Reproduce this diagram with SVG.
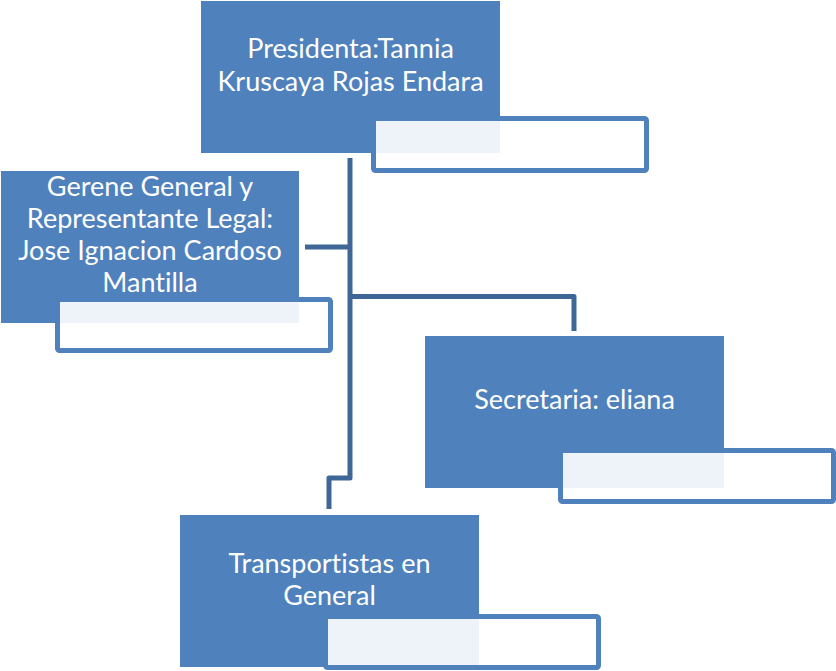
<svg xmlns="http://www.w3.org/2000/svg" width="836" height="671" viewBox="0 0 836 671">
<style>
.box{fill:#4F81BD;}
.sub{fill:#FFFFFF;fill-opacity:0.9;stroke:#4F81BD;stroke-width:5;}
.lbl{font-family:Lato,"Open Sans","Liberation Sans",sans-serif;font-size:27px;fill:#FFFFFF;text-anchor:middle;font-variant-ligatures:none;}
.conn{fill:none;stroke:#3E6797;stroke-width:5;stroke-linejoin:round;}
</style>
<rect width="836" height="671" fill="#FFFFFF"/>
<g id="connectors">
<path class="conn" d="M350,158 V478 H329 V509"/>
<path class="conn" d="M305,247 H350"/>
<path class="conn" d="M350,296.5 H574 V331"/>
</g>
<g id="presidenta">
<rect class="box" x="201" y="1" width="299" height="152"/>
<text class="lbl" x="350.5" y="58">Presidenta:Tannia</text>
<text class="lbl" x="350.5" y="90.5">Kruscaya Rojas Endara</text>
<rect class="sub" x="373.5" y="118.5" width="273" height="52" rx="2"/>
</g>
<g id="gerente">
<rect class="box" x="1" y="171" width="298" height="152"/>
<text class="lbl" x="150" y="196">Gerene General y</text>
<text class="lbl" x="150" y="228">Representante Legal:</text>
<text class="lbl" x="150" y="260">Jose Ignacion Cardoso</text>
<text class="lbl" x="150" y="292">Mantilla</text>
<rect class="sub" x="57.5" y="299.5" width="273" height="51" rx="2"/>
</g>
<g id="secretaria">
<rect class="box" x="425" y="336" width="299" height="152"/>
<text class="lbl" x="574.5" y="409">Secretaria: eliana</text>
<rect class="sub" x="560.5" y="450.5" width="273" height="51" rx="2"/>
</g>
<g id="transportistas">
<rect class="box" x="180" y="515" width="299" height="152"/>
<text class="lbl" x="329.5" y="573">Transportistas en</text>
<text class="lbl" x="329.5" y="605">General</text>
<rect class="sub" x="325.5" y="616.5" width="273" height="51" rx="2"/>
</g>
</svg>
